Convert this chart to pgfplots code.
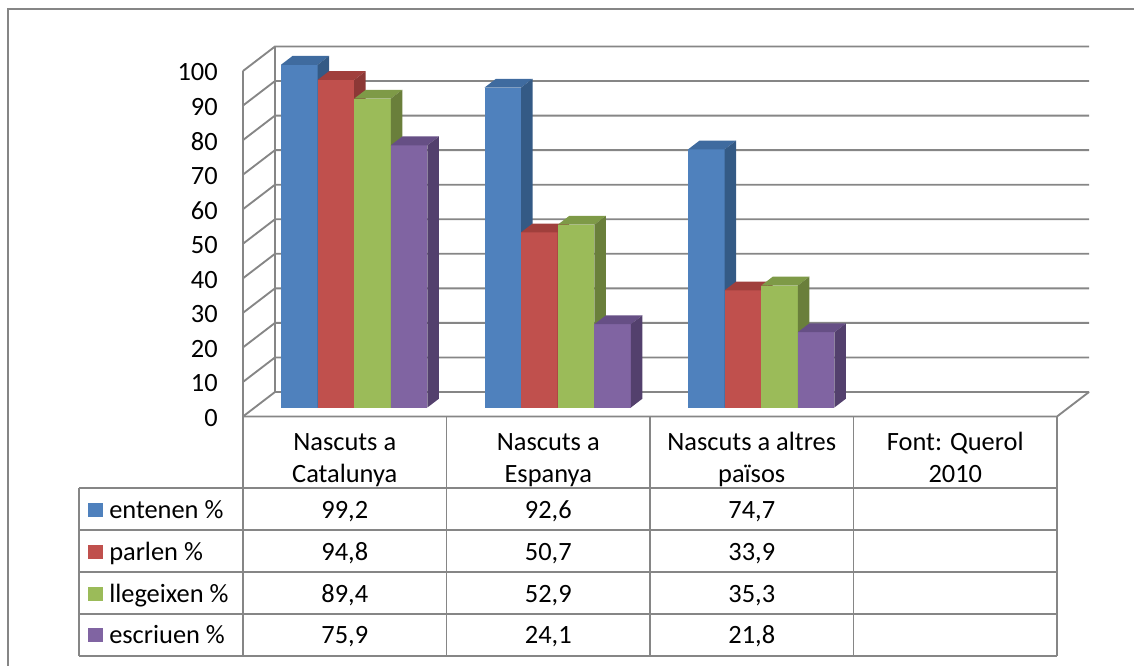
\documentclass[border=0pt]{standalone}
\usepackage{pgfplots}
\pgfplotsset{compat=1.18}
\usepackage{pgfplotstable}
\usepackage{fontspec}
\setmainfont{Carlito}

\definecolor{gridc}{HTML}{868686}
\definecolor{cA}{HTML}{4F81BD}\definecolor{cAtop}{HTML}{3F6B9F}\definecolor{cAside}{HTML}{345A85}
\definecolor{cB}{HTML}{C0504D}\definecolor{cBtop}{HTML}{A03F3C}\definecolor{cBside}{HTML}{8C3836}
\definecolor{cC}{HTML}{9BBB59}\definecolor{cCtop}{HTML}{7E9A47}\definecolor{cCside}{HTML}{6A7F3B}
\definecolor{cD}{HTML}{8064A2}\definecolor{cDtop}{HTML}{664F85}\definecolor{cDside}{HTML}{53406D}

\newcommand\lbl{\fontsize{19.8pt}{24pt}\selectfont}

% survey data: category index and one column per series (%)
\pgfplotstableread{
cat entenen parlen llegeixen escriuen
0   99.2    94.8   89.4      75.9
1   92.6    50.7   52.9      24.1
2   74.7    33.9   35.3      21.8
}\survey

% 3D column hanging below its data point (centre of the front top edge)
\newdimen\barh
\newdimen\barhs
\newcommand\declarebox[2]{%
  \pgfdeclareplotmark{#1}{%
    \barh=\barval pt \barh=2.59125\barh
    \barhs=\barh \advance\barhs by -6.6pt
    \pgfsetfillcolor{#2}%
    \pgfpathrectanglecorners{\pgfqpoint{-13.725pt}{0pt}}{\pgfqpoint{13.725pt}{-\barh}}%
    \pgfusepath{fill}%
    \pgfsetfillcolor{#2top}%
    \pgfpathmoveto{\pgfqpoint{-13.725pt}{0pt}}%
    \pgfpathlineto{\pgfqpoint{13.725pt}{0pt}}%
    \pgfpathlineto{\pgfqpoint{22.35pt}{6.6pt}}%
    \pgfpathlineto{\pgfqpoint{-5.1pt}{6.6pt}}%
    \pgfpathclose
    \pgfusepath{fill}%
    \pgfsetfillcolor{#2side}%
    \pgfpathmoveto{\pgfqpoint{13.725pt}{0pt}}%
    \pgfpathlineto{\pgfqpoint{22.35pt}{6.6pt}}%
    \pgfpathlineto{\pgfqpoint{22.35pt}{-\barhs}}%
    \pgfpathlineto{\pgfqpoint{13.725pt}{-\barh}}%
    \pgfpathclose
    \pgfusepath{fill}%
  }%
}
\declarebox{boxA}{cA}
\declarebox{boxB}{cB}
\declarebox{boxC}{cC}
\declarebox{boxD}{cD}

\begin{document}
\begin{tikzpicture}
\path[use as bounding box] (0pt,0pt) rectangle (850.5pt,-498.75pt);
\begin{axis}[
  anchor=origin, at={(0pt,-305.625pt)},
  x=0.75pt, y=2.59125pt,
  xmin=0, xmax=1134, ymin=-74.53, ymax=117.94,
  enlargelimits=false,
  hide axis, clip=false,
  scatter/@pre marker code/.code={},
  scatter/@post marker code/.code={},
  every axis plot/.append style={scatter, only marks,
    visualization depends on={rawy \as \barval}},
]
% walls and floor
\pgfplotsinvokeforeach{0,10,...,100}{
  \draw[gridc, line width=1.4pt] (axis cs:243,-2.6+#1) -- (axis cs:275,4.49+#1) -- (axis cs:1089,4.49+#1);
  \node[anchor=east, inner sep=0pt, font=\lbl] at (axis cs:218,-3.0+#1) {#1};
}
\draw[gridc, line width=1.4pt] (axis cs:243,97.4) -- (axis cs:243,-2.6) -- (axis cs:1057,-2.6) -- (axis cs:1089,4.49);
\draw[gridc, line width=1.4pt] (axis cs:275,4.49) -- (axis cs:275,104.49);

% columns
\addplot[mark=boxA] table[x expr=299.3+203.5*\thisrow{cat}, y=entenen] {\survey};
\addplot[mark=boxB] table[x expr=335.9+203.5*\thisrow{cat}, y=parlen] {\survey};
\addplot[mark=boxC] table[x expr=372.5+203.5*\thisrow{cat}, y=llegeixen] {\survey};
\addplot[mark=boxD] table[x expr=409.1+203.5*\thisrow{cat}, y=escriuen] {\survey};
\end{axis}

% data table below the plot
\begin{scope}[x=0.75pt, y=-0.75pt, every node/.style={font=\lbl, inner sep=0pt}]
  \draw[gridc, line width=1.4pt] (8,720) -- (8,9) -- (1200,9);
  \draw[gridc, line width=1.4pt] (243,416.5) -- (1057,416.5);
  \foreach \yy in {488.3,530.15,572.0,613.85,655.7}
    \draw[gridc, line width=1.4pt] (79,\yy) -- (1057,\yy);
  \foreach \xx in {243,446.5,650,853.5,1057}
    \draw[gridc, line width=1.4pt] (\xx,416.5) -- (\xx,655.7);
  \draw[gridc, line width=1.4pt] (79,488.3) -- (79,655.7);

  \node[anchor=base] at (344.75,450) {Nascuts a};
  \node[anchor=base] at (344.75,482.5) {Catalunya};
  \node[anchor=base] at (548.25,450) {Nascuts a};
  \node[anchor=base] at (548.25,482.5) {Espanya};
  \node[anchor=base] at (751.75,450) {Nascuts a altres};
  \node[anchor=base] at (751.75,482.5) {països};
  \node[anchor=base] at (955.25,450) {Font: Querol};
  \node[anchor=base] at (955.25,482.5) {2010};

  \foreach \name/\col/\a/\b/\c [count=\r from 0] in {
      {entenen \%}/cA/{99,2}/{92,6}/{74,7},
      {parlen \%}/cB/{94,8}/{50,7}/{33,9},
      {llegeixen \%}/cC/{89,4}/{52,9}/{35,3},
      {escriuen \%}/cD/{75,9}/{24,1}/{21,8}}{
    \pgfmathsetmacro\top{488.3+41.85*\r}
    \fill[\col] (88,\top+14.5) rectangle (103,\top+28.5);
    \node[anchor=base west] at (109,\top+30) {\name};
    \node[anchor=base] at (344.75,\top+30) {\a};
    \node[anchor=base] at (548.25,\top+30) {\b};
    \node[anchor=base] at (751.75,\top+30) {\c};
  }
\end{scope}
\end{tikzpicture}
\end{document}
